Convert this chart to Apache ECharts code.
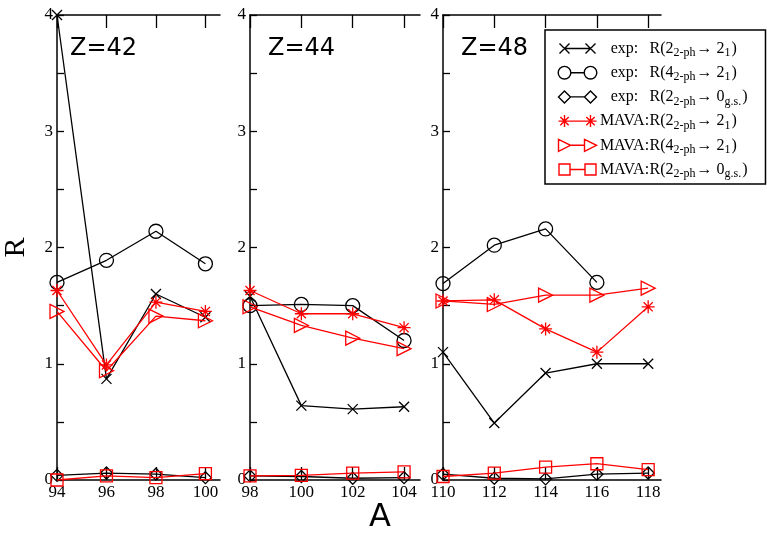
<!DOCTYPE html>
<html><head><meta charset="utf-8">
<script src="https://cdn.jsdelivr.net/npm/echarts@6/dist/echarts.min.js"></script>
<style>html,body{margin:0;padding:0;background:#fff}#c{width:767px;height:534px}</style>
</head><body><div id="c"></div>
<script>
// ---- data ----
const panelTitles = ['Z=42', 'Z=44', 'Z=48'];
const massA = [
  [94, 96, 98, 100],
  [98, 100, 102, 104],
  [110, 112, 114, 116, 118]
];
const seriesNames = ['exp22', 'exp42', 'exp20', 'mava22', 'mava42', 'mava20'];
// Z=42
const z42_exp22 = [4.0, 0.87, 1.60, 1.40];
const z42_exp42 = [1.70, 1.89, 2.14, 1.86];
const z42_exp20 = [0.04, 0.06, 0.05, 0.02];
const z42_mava22 = [1.63, 0.99, 1.53, 1.45];
const z42_mava42 = [1.45, 0.94, 1.41, 1.37];
const z42_mava20 = [0.0, 0.035, 0.02, 0.055];
// Z=44
const z44_exp22 = [1.58, 0.64, 0.61, 0.63];
const z44_exp42 = [1.50, 1.51, 1.50, 1.20];
const z44_exp20 = [0.035, 0.03, 0.015, 0.02];
const z44_mava22 = [1.63, 1.43, 1.43, 1.31];
const z44_mava42 = [1.49, 1.33, 1.22, 1.13];
const z44_mava20 = [0.035, 0.04, 0.06, 0.07];
// Z=48
const z48_exp22 = [1.10, 0.49, 0.92, 1.00, 1.00];
const z48_exp42 = [1.69, 2.02, 2.16, 1.70, null];
const z48_exp20 = [0.05, 0.015, 0.01, 0.05, 0.06];
const z48_mava22 = [1.54, 1.55, 1.30, 1.10, 1.49];
const z48_mava42 = [1.54, 1.51, 1.59, 1.59, 1.65];
const z48_mava20 = [0.03, 0.06, 0.11, 0.14, 0.09];
const yTicks = [0, 1, 2, 3, 4];

const panelData = [
  [z42_exp22, z42_exp42, z42_exp20, z42_mava22, z42_mava42, z42_mava20],
  [z44_exp22, z44_exp42, z44_exp20, z44_mava22, z44_mava42, z44_mava20],
  [z48_exp22, z48_exp42, z48_exp20, z48_mava22, z48_mava42, z48_mava20]
];

// ---- styles ----
const grids = [
  {left: 52, top: 15, width: 168, height: 465, xmax: 100.59},
  {left: 250, top: 15, width: 170, height: 465, xmax: 104.62},
  {left: 443, top: 15, width: 218, height: 465, xmax: 118.5}
];
const PAD = 'M0,0M40,14';
const styles = [
  {color: '#000', symbol: 'path://M0,0L10,10M10,0L0,10', size: 10,
   icon: 'path://' + PAD + 'M2,2L12,12M12,2L2,12M7,7L33,7M28,2L38,12M38,2L28,12'},
  {color: '#000', symbol: 'circle', size: 14,
   icon: 'path://' + PAD + 'M0.7,7A6.3,6.3 0 1 0 13.3,7A6.3,6.3 0 1 0 0.7,7M13.3,7L26.7,7M26.7,7A6.3,6.3 0 1 0 39.3,7A6.3,6.3 0 1 0 26.7,7'},
  {color: '#000', symbol: 'diamond', size: 12,
   icon: 'path://' + PAD + 'M7,1L13,7L7,13L1,7ZM13,7L27,7M33,1L39,7L33,13L27,7Z'},
  {color: '#ff0000', symbol: 'path://M5,0L5,10M0,5L10,5M1.5,1.5L8.5,8.5M8.5,1.5L1.5,8.5', size: 13,
   icon: 'path://' + PAD + 'M7,1L7,13M1,7L13,7M2.8,2.8L11.2,11.2M11.2,2.8L2.8,11.2M7,7L33,7M33,1L33,13M27,7L39,7M28.8,2.8L37.2,11.2M37.2,2.8L28.8,11.2'},
  {color: '#ff0000', symbol: 'path://M0,0L10,5L0,10Z', size: 14,
   icon: 'path://' + PAD + 'M1,1L13,7L1,13ZM13,7L27,7M27,1L39,7L27,13Z'},
  {color: '#ff0000', symbol: 'rect', size: 12,
   icon: 'path://' + PAD + 'M1.5,1.5L12.5,1.5L12.5,12.5L1.5,12.5ZM12.5,7L27.5,7M27.5,1.5L38.5,1.5L38.5,12.5L27.5,12.5Z'}
];
const legendLabels = {
  exp22: '{p|exp:}R(2{s|2-ph}→ 2{s|1})',
  exp42: '{p|exp:}R(4{s|2-ph}→ 2{s|1})',
  exp20: '{p|exp:}R(2{s|2-ph}→ 0{s|g.s.})',
  mava22: '{p|MAVA:}R(2{s|2-ph}→ 2{s|1})',
  mava42: '{p|MAVA:}R(4{s|2-ph}→ 2{s|1})',
  mava20: '{p|MAVA:}R(2{s|2-ph}→ 0{s|g.s.})'
};

const serif = 'Liberation Serif';
const xAxes = [], yAxes = [], series = [];
grids.forEach((g, i) => {
  const xmin = massA[i][0];
  const common = {
    type: 'value', gridIndex: i, min: xmin, max: g.xmax, interval: 2,
    axisLine: {show: true, lineStyle: {color: '#000', width: 1.5}},
    axisTick: {show: true, inside: true, length: 13, lineStyle: {color: '#000', width: 1.3}, customValues: massA[i]},
    splitLine: {show: false}
  };
  xAxes.push(Object.assign({}, common, {
    position: 'bottom',
    axisLabel: {show: true, customValues: massA[i], color: '#000', fontFamily: serif, fontSize: 17, margin: 4}
  }));
  xAxes.push(Object.assign({}, common, {
    position: 'top',
    axisLabel: {show: false}
  }));
  yAxes.push({
    type: 'value', gridIndex: i, min: 0, max: 4, interval: 1,
    axisLine: {show: true, lineStyle: {color: '#000', width: 1.5}},
    axisTick: {show: true, inside: true, length: 7, lineStyle: {color: '#000', width: 1.3}},
    minorTick: {show: true, splitNumber: 2, length: 7, lineStyle: {color: '#000', width: 1.3}},
    axisLabel: {color: '#000', fontFamily: serif, fontSize: 17, margin: 4, customValues: yTicks},
    splitLine: {show: false},
    name: i === 0 ? 'R' : '',
    nameLocation: 'middle', nameRotate: 90, nameGap: 26,
    nameTextStyle: {fontFamily: serif, fontSize: 30, color: '#000'}
  });
  panelData[i].forEach((vals, k) => {
    const st = styles[k];
    series.push({
      type: 'line', name: seriesNames[k],
      xAxisIndex: i * 2, yAxisIndex: i,
      data: massA[i].map((a, j) => [a, vals[j]]),
      symbol: st.symbol, symbolSize: st.size, showSymbol: true,
      lineStyle: {color: st.color, width: 1.3},
      itemStyle: {color: 'none', borderColor: st.color, borderWidth: 1.3},
      emphasis: {disabled: true},
      animation: false, z: 2 + k
    });
  });
});

const chart = echarts.init(document.getElementById('c'), null, {renderer: 'canvas'});
chart.setOption({
  backgroundColor: '#fff',
  animation: false,
  grid: grids.map(g => ({left: g.left, top: g.top, width: g.width, height: g.height})),
  xAxis: xAxes,
  yAxis: yAxes,
  title: panelTitles.map((t, i) => ({
    text: t, left: grids[i].left + 13, top: 32,
    textStyle: {fontFamily: 'DejaVu Sans', fontSize: 24, fontWeight: 'normal', color: '#000'}
  })),
  legend: {
    data: seriesNames.map((n, k) => ({
      name: n, icon: styles[k].icon,
      itemStyle: {color: 'none', borderColor: styles[k].color, borderWidth: 1.4}
    })),
    orient: 'vertical', left: 545, top: 30,
    itemWidth: 40, itemHeight: 14, itemGap: 4.2,
    padding: [9, 18, 4, 10],
    borderColor: '#000', borderWidth: 1.5, backgroundColor: '#fff',
    selectedMode: false,
    formatter: n => legendLabels[n],
    textStyle: {
      fontFamily: serif, fontSize: 16, color: '#000',
      rich: {
        p: {fontFamily: serif, fontSize: 16, color: '#000', width: 44, align: 'right', padding: [0, 3, 0, 0]},
        s: {fontFamily: serif, fontSize: 12, color: '#000', padding: [9, 1, 0, 0]}
      }
    }
  },
  graphic: [{
    type: 'text', left: 369, top: 502,
    style: {text: 'A', font: '32px "DejaVu Sans"', fill: '#000'}
  }],
  series: series
});
</script></body></html>
